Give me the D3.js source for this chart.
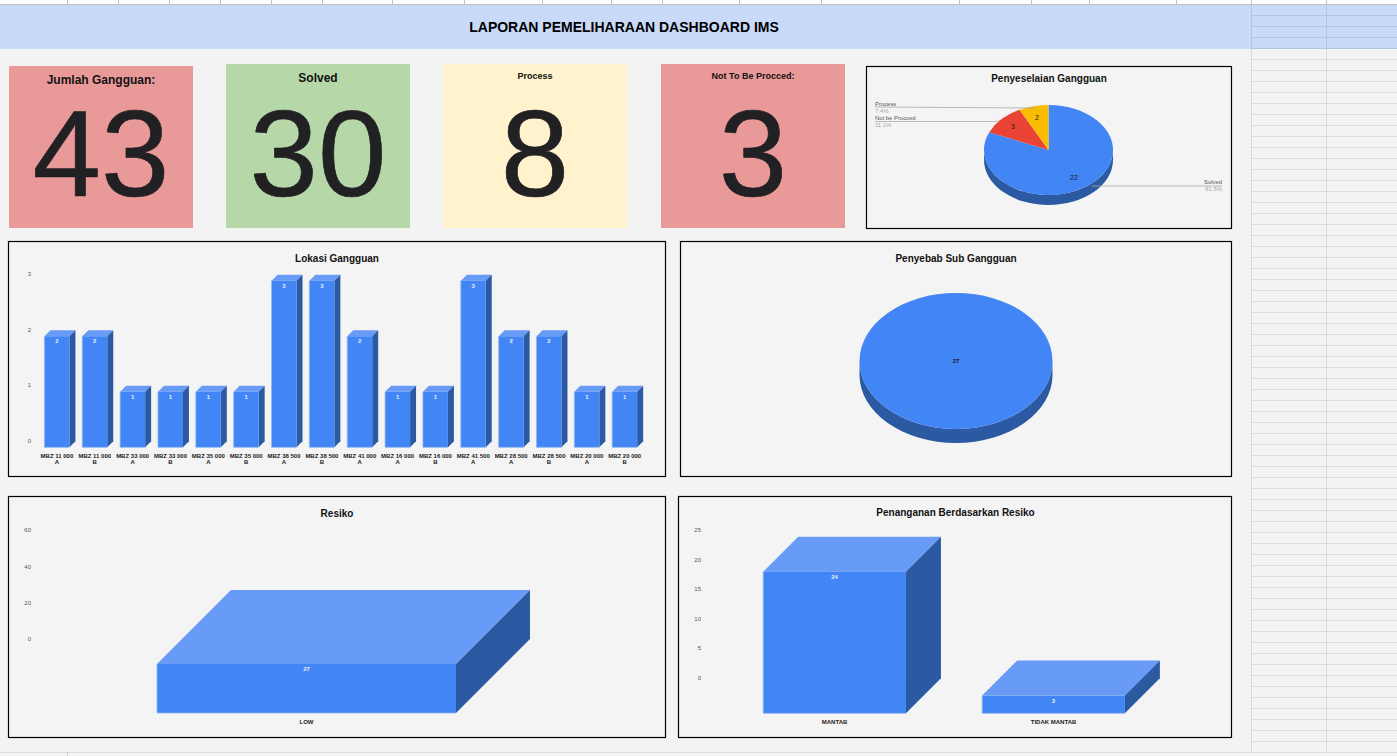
<!DOCTYPE html>
<html>
<head>
<meta charset="utf-8">
<title>Laporan Pemeliharaan Dashboard IMS</title>
<script src="https://cdn.jsdelivr.net/npm/d3@7"></script>
<style>
html,body{margin:0;padding:0;background:#f3f3f3;overflow:hidden}
svg{display:block}
text{font-family:"Liberation Sans",Arial,sans-serif}
</style>
</head>
<body>
<svg id="c" width="1397" height="756"></svg>
<script>
// ---- data ----
const pageTitle = "LAPORAN PEMELIHARAAN DASHBOARD IMS";
const cardTitles = ["Jumlah Gangguan:", "Solved", "Process", "Not To Be Procced:"];
const cardValues = [43, 30, 8, 3];
const statusLabels = ["Solved", "Not be Procced", "Process"];
const statusValues = [22, 3, 2];
const statusPercents = ["81.5%", "11.1%", "7.4%"];
const lokasiCategories = ["MBZ 11 000 A","MBZ 11 000 B","MBZ 33 000 A","MBZ 33 000 B","MBZ 35 000 A","MBZ 35 000 B","MBZ 38 500 A","MBZ 38 500 B","MBZ 41 000 A","MBZ 16 000 A","MBZ 16 000 B","MBZ 41 500 A","MBZ 28 500 A","MBZ 28 500 B","MBZ 20 000 A","MBZ 20 000 B"];
const lokasiValues = [2,2,1,1,1,1,3,3,2,1,1,3,2,2,1,1];
const lokasiTicks = [0,1,2,3];
const subValues = [27];
const resikoCategories = ["LOW"];
const resikoValues = [27];
const resikoTicks = [0,20,40,60];
const penangananCategories = ["MANTAB","TIDAK MANTAB"];
const penangananValues = [24,3];
const penangananTicks = [0,5,10,15,20,25];

// ---- sheet furniture (layout only) ----
const topTickXs = [67,118,169,220,271,322,392,464,542,611,662,739,821,959,1031,1089,1176,1251,1326];
const cardColors = ["#ea9999","#b6d7a8","#fff2cc","#ea9999"];
const BLUE = "#4285f4", BLUE_TOP = "#689bf6", BLUE_SIDE = "#2c5aa2", BLUE_EDGE = "#8fb6f8";

const svg = d3.select("#c");
const W = 1397, H = 756;

svg.append("rect").attr("width",W).attr("height",H).attr("fill","#f3f3f3");
svg.append("rect").attr("width",W).attr("height",4).attr("fill","#ffffff");
svg.append("rect").attr("y",4).attr("width",W).attr("height",45).attr("fill","#c9daf8");
svg.append("g").selectAll("line").data(topTickXs).join("line")
  .attr("x1",d=>d+.5).attr("x2",d=>d+.5).attr("y1",0).attr("y2",4)
  .attr("stroke","#c4c4c4");
svg.append("line").attr("x1",0).attr("x2",W).attr("y1",4.5).attr("y2",4.5).attr("stroke","#c0c0c0");

// grid on the right of the dashboard
const rowYs = d3.range(15, 753, 11);
svg.append("g").selectAll("line").data(rowYs).join("line")
  .attr("x1",1251).attr("x2",W).attr("y1",d=>d+.5).attr("y2",d=>d+.5)
  .attr("stroke",d=>d<49?"#b3c5e3":"#dcdcdc");
svg.append("g").selectAll("line").data([1251,1326]).join("line")
  .attr("x1",d=>d+.5).attr("x2",d=>d+.5).attr("y1",49).attr("y2",752)
  .attr("stroke","#dadada");
svg.append("g").selectAll("line").data([1251,1326]).join("line")
  .attr("x1",d=>d+.5).attr("x2",d=>d+.5).attr("y1",5).attr("y2",49)
  .attr("stroke","#b3c5e3");
svg.append("line").attr("x1",0).attr("x2",W).attr("y1",752.5).attr("y2",752.5).attr("stroke","#dcdcdc");
svg.append("line").attr("x1",67.5).attr("x2",67.5).attr("y1",752).attr("y2",756).attr("stroke","#d0d0d0");

svg.append("text").attr("x",624).attr("y",32).attr("text-anchor","middle")
  .attr("font-size",14).attr("font-weight","bold").attr("fill","#000").text(pageTitle);

// ---- KPI cards ----
const cardBoxes = [
  {x:9,  y:66, w:184, h:162, ts:12, ty:84},
  {x:226,y:64, w:184, h:164, ts:12, ty:82},
  {x:443,y:64, w:184, h:164, ts:9,  ty:79},
  {x:661,y:64, w:184, h:164, ts:9,  ty:79}
];
const cards = svg.append("g").selectAll("g").data(cardValues).join("g");
cards.append("rect")
  .attr("x",(d,i)=>cardBoxes[i].x).attr("y",(d,i)=>cardBoxes[i].y)
  .attr("width",(d,i)=>cardBoxes[i].w).attr("height",(d,i)=>cardBoxes[i].h)
  .attr("fill",(d,i)=>cardColors[i]);
cards.append("text")
  .attr("x",(d,i)=>cardBoxes[i].x+cardBoxes[i].w/2).attr("y",(d,i)=>cardBoxes[i].ty)
  .attr("text-anchor","middle").attr("font-weight","bold")
  .attr("font-size",(d,i)=>cardBoxes[i].ts).attr("fill","#111")
  .text((d,i)=>cardTitles[i]);
cards.append("text")
  .attr("x",(d,i)=>cardBoxes[i].x+cardBoxes[i].w/2).attr("y",196)
  .attr("text-anchor","middle").attr("font-size",123).attr("fill","#212124")
  .attr("stroke","#212124").attr("stroke-width",.7)
  .text(d=>d);

// ---- panels ----
function panel(x,y,w,h,title,tx,ty){
  svg.append("rect").attr("x",x+.5).attr("y",y+.5).attr("width",w).attr("height",h)
    .attr("fill","#f4f4f4").attr("stroke","#000").attr("stroke-width",1.2);
  svg.append("text").attr("x",tx).attr("y",ty).attr("text-anchor","middle")
    .attr("font-size",10).attr("font-weight","bold").attr("fill","#111").text(title);
}
panel(866,66,365,162,"Penyeselaian Gangguan",1049,82);
panel(8,241,657,235,"Lokasi Gangguan",337,262);
panel(680,241,551,235,"Penyebab Sub Gangguan",956,262);
panel(8,496,657,241,"Resiko",337,517);
panel(678,496,553,241,"Penanganan Berdasarkan Resiko",955.5,516);

// ---- 3D bars ----
function bars3d(o){
  const x = d3.scaleBand().domain(o.categories).range(o.xRange)
    .paddingInner(o.pad).paddingOuter(o.pad/2);
  const y = d3.scaleLinear().domain([0,o.unitMax]).range([o.y0,o.y1]);
  const dp = o.depth;
  const g = svg.append("g");

  // value axis, lifted to the back wall of the 3D box
  const ay = g.append("g").attr("transform",`translate(${o.axisX},${-dp+o.tickShift})`)
    .call(d3.axisLeft(y).tickValues(o.ticks).tickFormat(d3.format("d")).tickSize(0).tickPadding(0));
  ay.select(".domain").remove();
  ay.selectAll("text").attr("font-size",6).attr("fill","#555")
    .style("font-family",'"Liberation Sans",Arial,sans-serif');

  // category axis
  const ax = g.append("g").attr("transform",`translate(0,${o.catY})`)
    .call(d3.axisBottom(x).tickSize(0).tickPadding(0));
  ax.select(".domain").remove();
  ax.selectAll("text").each(function(d){
    const t = d3.select(this).text(null).attr("y",0).attr("dy",null)
      .attr("font-size",6).attr("font-weight","bold").attr("fill","#1c1c1c")
      .style("font-family",'"Liberation Sans",Arial,sans-serif');
    const m = o.wrap ? d.match(/^(.*) (\S+)$/) : null;
    const parts = m ? [m[1],m[2]] : [d];
    parts.forEach((p,i)=>t.append("tspan").attr("x",0).attr("y",i*6).text(p));
  });

  const items = o.categories.map((c,i)=>({c,v:o.values[i]}));
  const b = g.selectAll("g.bar").data(items).join("g").attr("class","bar");
  // top face
  b.append("path").attr("fill",BLUE_TOP).attr("d",d=>{
    const l=x(d.c), r=l+x.bandwidth(), t=y(d.v);
    return `M${l},${t}L${l+dp},${t-dp}L${r+dp},${t-dp}L${r},${t}Z`;
  });
  // side face
  b.append("path").attr("fill",BLUE_SIDE).attr("d",d=>{
    const r=x(d.c)+x.bandwidth(), t=y(d.v), s=y(0);
    return `M${r},${t}L${r+dp},${t-dp}L${r+dp},${s-dp}L${r},${s}Z`;
  });
  // front face
  b.append("rect").attr("fill",BLUE)
    .attr("x",d=>x(d.c)).attr("y",d=>y(d.v))
    .attr("width",x.bandwidth()).attr("height",d=>y(0)-y(d.v));
  // lighter left and bottom edges
  b.append("path").attr("fill","none").attr("stroke",BLUE_EDGE).attr("stroke-width",.8)
    .attr("d",d=>{
      const l=x(d.c), r=l+x.bandwidth(), t=y(d.v), s=y(0);
      return `M${l},${t}L${l},${s}L${r},${s}`;
    });
  // value labels
  b.append("text").attr("x",d=>x(d.c)+x.bandwidth()/2).attr("y",d=>y(d.v)+7)
    .attr("text-anchor","middle").attr("font-size",6).attr("font-weight","bold")
    .attr("fill","#e8f0ff").text(d=>d.v);
}

bars3d({categories:lokasiCategories,values:lokasiValues,ticks:lokasiTicks,unitMax:3,
  xRange:[38,643.6],pad:.34,y0:447.3,y1:280.7,depth:6,axisX:31,tickShift:-.8,catY:458,wrap:true});
bars3d({categories:resikoCategories,values:resikoValues,ticks:resikoTicks,unitMax:60,
  xRange:[157,456],pad:0,y0:713,y1:604,depth:74,axisX:31,tickShift:0,catY:724,wrap:false});
bars3d({categories:penangananCategories,values:penangananValues,ticks:penangananTicks,unitMax:25,
  xRange:[725.1,1163],pad:.348,y0:713.3,y1:565.8,depth:35,axisX:701,tickShift:-.8,catY:724,wrap:false});

// ---- 3D pies ----
function pie3d(o){
  const g = svg.append("g");
  const k = o.ry/o.rx;
  const arcs = d3.pie().sort(null)(o.values);
  const arc = d3.arc().innerRadius(0).outerRadius(o.rx);
  g.append("path").attr("fill",BLUE_SIDE)
    .attr("d",`M${o.cx-o.rx},${o.cy}A${o.rx},${o.ry} 0 0 0 ${o.cx+o.rx},${o.cy}L${o.cx+o.rx},${o.cy+o.depth}A${o.rx},${o.ry} 0 0 1 ${o.cx-o.rx},${o.cy+o.depth}Z`);
  g.append("g").attr("transform",`translate(${o.cx},${o.cy}) scale(1,${k})`)
    .selectAll("path").data(arcs).join("path")
    .attr("d",arc).attr("fill",(d,i)=>o.colors[i]);
}
pie3d({cx:1048.5,cy:150,rx:64.5,ry:45,depth:10,values:statusValues,colors:[BLUE,"#ea4335","#fbbc04"]});
pie3d({cx:956,cy:361,rx:96.5,ry:68,depth:14,values:subValues,colors:[BLUE]});

// pie annotations
const sliceLabelPos = [[1074,180],[1013,129],[1037,119.5]];
svg.append("g").selectAll("text").data(statusValues).join("text")
  .attr("x",(d,i)=>sliceLabelPos[i][0]).attr("y",(d,i)=>sliceLabelPos[i][1])
  .attr("text-anchor","middle").attr("font-size",7).attr("fill","#1a1a1a").text(d=>d);
svg.append("text").attr("x",956).attr("y",363).attr("text-anchor","middle")
  .attr("font-size",6).attr("font-weight","bold").attr("fill","#1a1a1a").text(subValues[0]);

const leaders = [
  {pts:[[1092,186],[1222,186]], x:1222, anchor:"end", y:184},
  {pts:[[875,121.5],[997,121.5],[1000,120]], x:875, anchor:"start", y:119.5},
  {pts:[[875,107],[1036,108]], x:875, anchor:"start", y:106}
];
const ann = svg.append("g");
ann.selectAll("path").data(leaders).join("path")
  .attr("d",d=>d3.line()(d.pts)).attr("fill","none").attr("stroke","#a8a8a8").attr("stroke-width",.8);
ann.selectAll("text.n").data(statusLabels).join("text").attr("class","n")
  .attr("x",(d,i)=>leaders[i].x).attr("y",(d,i)=>leaders[i].y)
  .attr("text-anchor",(d,i)=>leaders[i].anchor).attr("font-size",5.9).attr("fill","#555").text(d=>d);
ann.selectAll("text.p").data(statusPercents).join("text").attr("class","p")
  .attr("x",(d,i)=>leaders[i].x).attr("y",(d,i)=>leaders[i].y+7)
  .attr("text-anchor",(d,i)=>leaders[i].anchor).attr("font-size",5.9).attr("fill","#aaa").text(d=>d);
</script>
</body>
</html>
